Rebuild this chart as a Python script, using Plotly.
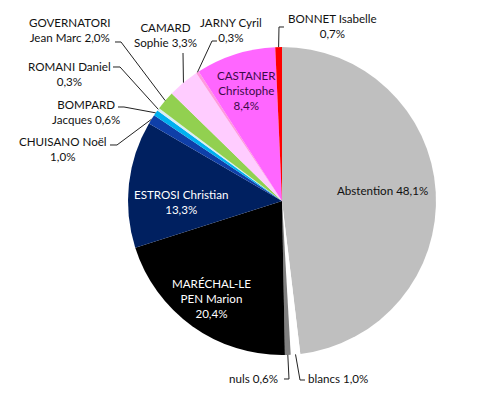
import math
import plotly.graph_objects as go

# ---- data ----
names = ["Abstention", "blancs", "nuls", "MARÉCHAL-LE PEN Marion", "ESTROSI Christian",
         "CHUISANO Noël", "BOMPARD Jacques", "ROMANI Daniel", "GOVERNATORI Jean Marc",
         "CAMARD Sophie", "JARNY Cyril", "CASTANER Christophe", "BONNET Isabelle"]
values = [48.1, 1.0, 0.6, 20.4, 13.3, 1.0, 0.6, 0.3, 2.0, 3.3, 0.3, 8.4, 0.7]
label_templates = ["Abstention {v}", "blancs {v}", "nuls {v}", "MARÉCHAL-LE<br>PEN Marion<br>{v}",
                   "ESTROSI Christian<br>{v}", "CHUISANO Noël<br>{v}", "BOMPARD<br>Jacques {v}",
                   "ROMANI Daniel<br>{v}", "GOVERNATORI<br>Jean Marc {v}", "CAMARD<br>Sophie {v}",
                   "JARNY Cyril<br>{v}", "CASTANER<br>Christophe<br>{v}", "BONNET Isabelle<br>{v}"]

# ---- style ----
colors = ["#BFBFBF", "#FFFFFF", "#808080", "#000000", "#002060",
          "#0F3FA8", "#00B0F0", "#DAEEF3", "#92D050",
          "#FFCCFF", "#FF99DD", "#FF66FF", "#FF0000"]
W, H = 493, 396
CX, CY, R = 282, 201, 154
FONT = "Lato"
FSIZE = 11.6

# label centre (px) and leader (start tick points, px); None = inside label without leader
label_pos = [(382, 190), (338, 378), (253, 378), (211, 298), (181, 202),
             (63, 149), (86, 112), (69, 74), (69, 30),
             (165, 35), (231, 30), (246, 91), (332, 26)]
text_colors = ["#111", "#111", "#111", "#FFFFFF", "#FFFFFF",
               "#111", "#111", "#111", "#111",
               "#111", "#111", "#3C0B47", "#111"]
leaders = [None, [(305, 380), (300, 380)], [(284, 379), (289, 379)], None, None,
           [(110, 145), (117, 145)], [(118, 107), (124, 107)], [(113, 67), (120, 67)],
           [(115, 42), (121, 42)], [(183, 53)], [(217, 41), (212, 41)], None,
           [(284, 27), (279, 27)]]


def fmt(v):
    return f"{v:.1f}".replace(".", ",") + "%"


def px(x, y):
    return x / W, 1 - y / H


fig = go.Figure(go.Pie(
    labels=names, values=values, sort=False, direction="clockwise", rotation=0,
    marker=dict(colors=colors, line=dict(width=0)),
    textinfo="none", hoverinfo="label+percent", showlegend=False,
    domain=dict(x=[(CX - R) / W, (CX + R) / W], y=[1 - (CY + R) / H, 1 - (CY - R) / H]),
))

total = sum(values)
cum = 0.0
annotations = []
shapes = []
for i, v in enumerate(values):
    mid = (cum + v / 2) / total * 2 * math.pi
    cum += v
    ax_, ay_ = CX + R * math.sin(mid), CY - R * math.cos(mid)
    tx, ty = label_pos[i]
    x, y = px(tx, ty)
    annotations.append(dict(
        x=x, y=y, xref="paper", yref="paper", showarrow=False,
        text=label_templates[i].format(v=fmt(v)), align="center",
        xanchor="center", yanchor="middle",
        font=dict(family=FONT, size=FSIZE, color=text_colors[i])))
    if leaders[i]:
        pts = leaders[i] + [(ax_, ay_)]
        path = "M " + " L ".join(f"{px(a, b)[0]:.5f},{px(a, b)[1]:.5f}" for a, b in pts)
        shapes.append(dict(type="path", path=path, xref="paper", yref="paper",
                           line=dict(color="#222", width=1)))

fig.update_layout(
    width=W, height=H, margin=dict(l=0, r=0, t=0, b=0),
    paper_bgcolor="white", plot_bgcolor="white",
    annotations=annotations, shapes=shapes,
)
fig.write_html("out.html", config={"displayModeBar": False},
               post_script="document.body.style.margin='0';")
